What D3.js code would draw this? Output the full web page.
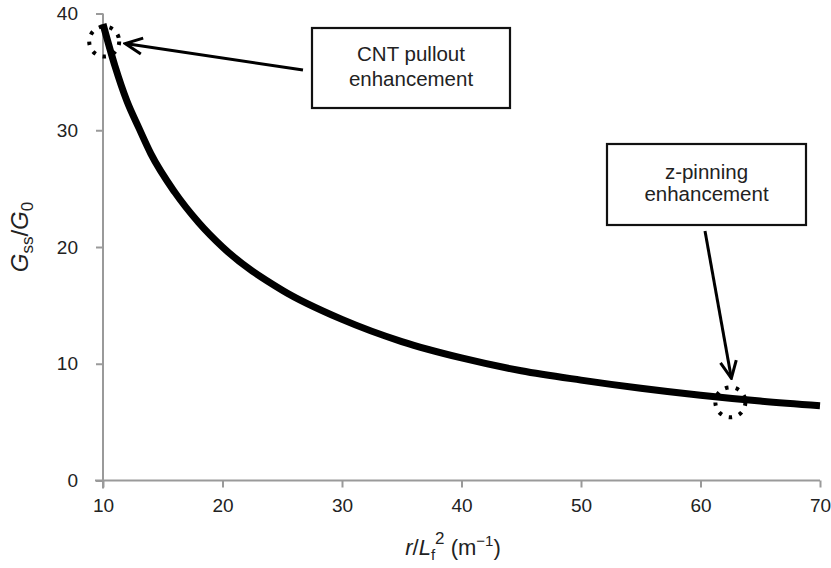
<!DOCTYPE html>
<html>
<head>
<meta charset="utf-8">
<script src="https://cdn.jsdelivr.net/npm/d3@7"></script>
<style>
  body { margin: 0; background: #fff; }
  svg { font-family: "Liberation Sans", Arial, sans-serif; }
  .axis path, .axis line { stroke: #9a9a9a; stroke-width: 2; }
  .axis text { fill: #222; font-size: 19px; font-family: "Liberation Sans", Arial, sans-serif; }
</style>
</head>
<body>
<div id="chart"></div>
<script>
// values
var ratioX = [10, 11, 12, 13, 14, 16, 18, 20, 25, 30, 35, 40, 45, 50, 55, 60, 65, 70];
var gRatio = [39.1, 35.5, 32.5, 30.2, 28, 24.7, 22.1, 20, 16.3, 13.8, 11.9, 10.5, 9.4, 8.6, 7.9, 7.3, 6.8, 6.4];
var xTicks = [10, 20, 30, 40, 50, 60, 70];
var yTicks = [0, 10, 20, 30, 40];

// highlighted points (dotted circles)
var markX = [10.1, 62.5];
var markY = [37.6, 6.7];

var width = 831, height = 568;
var svg = d3.select("#chart").append("svg")
    .attr("width", width)
    .attr("height", height);

var x = d3.scaleLinear().domain([10, 70]).range([103, 820]);
var y = d3.scaleLinear().domain([0, 40]).range([480.5, 13.5]);

//--------------------------------------------------------------------------
// axes
var xAxis = svg.append("g")
    .attr("class", "axis")
    .attr("transform", "translate(0," + y(0) + ")")
    .call(d3.axisBottom(x).tickValues(xTicks).tickSize(7).tickSizeOuter(0).tickPadding(11));
xAxis.select(".domain").attr("d", "M" + (x(10) - 8) + ",0H" + x(70));

var yAxis = svg.append("g")
    .attr("class", "axis")
    .attr("transform", "translate(" + x(10) + ",0)")
    .call(d3.axisLeft(y).tickValues(yTicks).tickSize(7).tickSizeOuter(0).tickPadding(18));
yAxis.select(".domain").attr("d", "M0," + y(40) + "V" + (y(0) + 8));

//--------------------------------------------------------------------------
// curve
var line = d3.line()
    .x(function(d, i) { return x(ratioX[i]); })
    .y(function(d) { return y(d); })
    .curve(d3.curveMonotoneX);

svg.append("path")
    .datum(gRatio)
    .attr("d", line)
    .attr("fill", "none")
    .attr("stroke", "#000")
    .attr("stroke-width", 7);

// dotted circles
markX.forEach(function(v, i) {
  svg.append("circle")
      .attr("cx", x(v))
      .attr("cy", y(markY[i]))
      .attr("r", 15)
      .attr("fill", "none")
      .attr("stroke", "#000")
      .attr("stroke-width", 4)
      .attr("stroke-dasharray", "3.5,7.3");
});

//--------------------------------------------------------------------------
// annotations
svg.append("defs").append("marker")
    .attr("id", "arrowHead")
    .attr("viewBox", "0 0 22 22")
    .attr("refX", 20)
    .attr("refY", 11)
    .attr("markerWidth", 22)
    .attr("markerHeight", 22)
    .attr("markerUnits", "userSpaceOnUse")
    .attr("orient", "auto")
    .append("path")
    .attr("d", "M3,3L20,11L3,19")
    .attr("fill", "none")
    .attr("stroke", "#000")
    .attr("stroke-width", 3);

function box(x0, y0, w, h, lines, lineGap, arrowFrom, arrowTo) {
  svg.append("rect")
      .attr("x", x0).attr("y", y0)
      .attr("width", w).attr("height", h)
      .attr("fill", "#fff")
      .attr("stroke", "#111")
      .attr("stroke-width", 2.2);
  svg.append("text")
      .attr("text-anchor", "middle")
      .attr("font-size", 20.5)
      .attr("fill", "#222")
      .selectAll("tspan").data(lines).enter().append("tspan")
      .attr("x", x0 + w / 2)
      .attr("y", function(d, i) { return y0 + h / 2 - 2 - lineGap / 2 + 7 + i * lineGap; })
      .text(function(d) { return d; });
  svg.append("line")
      .attr("x1", arrowFrom[0]).attr("y1", arrowFrom[1])
      .attr("x2", arrowTo[0]).attr("y2", arrowTo[1])
      .attr("stroke", "#000")
      .attr("stroke-width", 3)
      .attr("marker-end", "url(#arrowHead)");
}

box(312, 28, 198, 80, ["CNT pullout", "enhancement"], 25,
    [303, 70], [x(markX[0]) + 21, y(markY[0]) + 2]);
box(607, 144, 199, 81, ["z-pinning", "enhancement"], 22,
    [705, 231], [x(markX[1]) + 1, y(markY[1]) - 24]);

//--------------------------------------------------------------------------
// axis titles
var yt = svg.append("text")
    .attr("transform", "translate(28,237) rotate(-90)")
    .attr("text-anchor", "middle")
    .attr("font-size", 24)
    .attr("fill", "#222");
yt.append("tspan").attr("font-style", "italic").text("G");
yt.append("tspan").attr("font-size", 17).attr("dy", 5).text("ss");
yt.append("tspan").attr("dy", -5).text("/");
yt.append("tspan").attr("font-style", "italic").text("G");
yt.append("tspan").attr("font-size", 17).attr("dy", 5).text("0");

var xt = svg.append("text")
    .attr("x", 453)
    .attr("y", 555)
    .attr("text-anchor", "middle")
    .attr("font-size", 22)
    .attr("fill", "#222");
xt.append("tspan").attr("font-style", "italic").text("r");
xt.append("tspan").text("/");
xt.append("tspan").attr("font-style", "italic").text("L");
xt.append("tspan").attr("font-size", 15).attr("dy", 5).text("f");
xt.append("tspan").attr("font-size", 17).attr("dy", -16).text("2");
xt.append("tspan").attr("dy", 11).text(" (m");
xt.append("tspan").attr("font-size", 15).attr("dy", -9).text("\u22121");
xt.append("tspan").attr("dy", 9).text(")");
</script>
</body>
</html>
